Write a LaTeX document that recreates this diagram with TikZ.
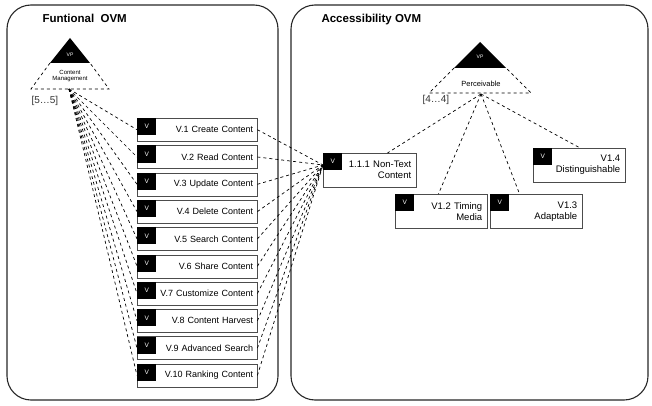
\documentclass[tikz,border=0pt]{standalone}
\usepackage{fontspec}
\setmainfont{Liberation Sans}
\usetikzlibrary{calc}

\begin{document}
\begin{tikzpicture}[x=1pt,y=-1pt,
    panel/.style={draw=black!85, line width=1.1pt, rounded corners=24pt},
    link/.style={dashed, line width=0.7pt},
    title/.style={anchor=west, font=\fontsize{11.5}{13}\selectfont\bfseries},
    card/.style={anchor=west, text=black!80, font=\fontsize{10}{12}\selectfont},
    vbox/.style={draw=black!70, fill=white, anchor=north west, minimum height=23pt,
      text width=112pt, align=right, inner xsep=4pt, inner ysep=0pt,
      font=\fontsize{9}{10}\selectfont},
    wbox/.style={draw=black!70, fill=white, anchor=north west, minimum height=34pt,
      align=right, inner xsep=5pt, inner ysep=0pt, font=\fontsize{9.5}{11}\selectfont},
    vtag/.style={fill=black, text=white, anchor=north west, minimum width=19pt,
      minimum height=17pt, inner sep=0pt, font=\fontsize{6.5}{7}\selectfont}]
      \useasboundingbox (0,0) rectangle (652,406);

      \draw[panel] (7,5) rectangle (278,400);
      \draw[panel] (291,5) rectangle (648,400);

      \node[title] (ftitle) at (39,18) {Funtional\hspace{0.55em}OVM};
      \node[title] (atitle) at (318,20) {Accessibility OVM};

      \fill (70,38) -- (50,63) -- (90,63) -- cycle;
      \draw[link] (50,63) -- (31,89) -- (109,89) -- (90,63);
      \node[text=white, font=\fontsize{5}{6}\selectfont] (vp1) at (70,55) {VP};
      \node[align=center, font=\fontsize{6}{6.5}\selectfont] (cmtxt) at (70,76) {Content\\Management};
      \coordinate (cm) at (69,89);
      \node[card] (card1) at (28,101) {[5…5]};

      \fill (480,42) -- (454,68) -- (506,68) -- cycle;
      \draw[link] (454,68) -- (429,93) -- (531,93) -- (506,68);
      \node[text=white, font=\fontsize{5}{6}\selectfont] (vp2) at (480,57) {VP};
      \node[font=\fontsize{7.5}{8}\selectfont] (pctxt) at (481,84) {Perceivable};
      \coordinate (pc) at (481,94);
      \node[card] (card2) at (419,100) {[4…4]};

      \foreach \lab [count=\i] in {V.1 Create Content, V.2 Read Content, V.3 Update Content,
          V.4 Delete Content, V.5 Search Content, V.6 Share Content, V.7 Customize Content,
          V.8 Content Harvest, V.9 Advanced Search, V.10 Ranking Content} {
        \node[vbox] (v\i) at (137,{118+(\i-1)*27.3}) {\lab};
        \node[vtag] at (v\i.north west) {V};
      }

      \node[wbox, text width=83pt] (nt) at (323,153) {1.1.1 Non-Text\\Content};
      \node[vtag] at (nt.north west) {V};
      \node[wbox, text width=82pt] (tm) at (395,194) {V1.2 Timing\\Media};
      \node[vtag] at (tm.north west) {V};
      \node[wbox, text width=82pt] (ad) at (490,194) {V1.3\\Adaptable};
      \node[vtag] at (ad.north west) {V};
      \node[wbox, text width=82pt] (di) at (533,148) {V1.4\\Distinguishable};
      \node[vtag] at (di.north west) {V};
      \coordinate (ntin) at ([yshift=-12pt]nt.north west);

      \foreach \i in {1,...,10} {
        \draw[link] (cm) -- (v\i.west);
        \draw[link] (v\i.east) -- (ntin);
      }

      \draw[link] (pc) -- ($(nt.north west)!0.69!(nt.north east)$);
      \draw[link] (pc) -- ($(tm.north west)!0.47!(tm.north east)$);
      \draw[link] (pc) -- ($(ad.north west)!0.32!(ad.north east)$);
      \draw[link] (pc) -- ($(di.north west)!0.51!(di.north east)$);
    \end{tikzpicture}
\end{document}
